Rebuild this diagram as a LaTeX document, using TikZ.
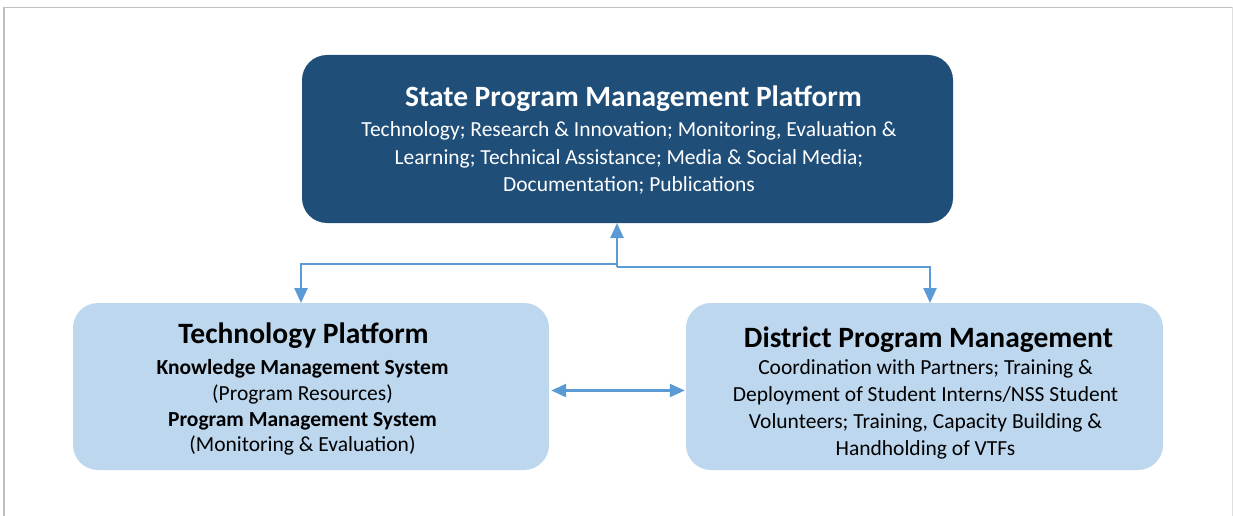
\documentclass[tikz,border=0pt]{standalone}
\usepackage{fontspec}
\setmainfont{Carlito}
\usetikzlibrary{arrows.meta,calc}
\definecolor{darkbox}{HTML}{1F4E79}
\definecolor{lightbox}{HTML}{BDD7EE}
\definecolor{arrowc}{HTML}{5B9BD5}
\definecolor{framec}{HTML}{BFBFBF}
\begin{document}
\begin{tikzpicture}[x=1pt,y=-1pt,
  dbox/.style={rectangle, rounded corners=25pt, fill=darkbox, draw=none, inner sep=0pt},
  lbox/.style={rectangle, rounded corners=25pt, fill=lightbox, draw=none, inner sep=0pt},
  ttl/.style={font=\fontsize{29.5}{34}\selectfont\bfseries, inner sep=0pt},
  bodytxt/.style={font=\fontsize{21.5}{27.5}\selectfont, align=center, inner sep=0pt},
  conn/.style={draw=arrowc, line width=2.5pt, -{Triangle[length=15pt,width=13pt]}},
  dconn/.style={draw=arrowc, line width=2.5pt, {Triangle[length=15pt,width=13pt]}-{Triangle[length=15pt,width=13pt]}}
]
\useasboundingbox (0,0) rectangle (1233,516);
% frame
\draw[framec, line width=1.5pt] (4,516) -- (4,7.5) -- (1232,7.5);
\draw[framec!50, line width=1pt] (1232,7.5) -- (1232,516);

% boxes
\node[dbox, minimum width=651pt, minimum height=168pt] (top) at (627.5,139) {};
\node[lbox, minimum width=476pt, minimum height=167pt] (left) at (311,386.5) {};
\node[lbox, minimum width=477pt, minimum height=167pt] (right) at (924.5,386.5) {};

% texts
\node[ttl, text=white] (toptitle) at (633.5,99) {State Program Management Platform};
\node[bodytxt, text=white] (topbody) at (629,158) {Technology; Research \& Innovation; Monitoring, Evaluation \&\\Learning; Technical Assistance; Media \& Social Media;\\Documentation; Publications};

\node[ttl, text=black] (lefttitle) at (303.5,336) {Technology Platform};
\node[bodytxt, text=black, font=\fontsize{21.5}{25.7}\selectfont] (leftbody) at (302.5,407.5) {\textbf{Knowledge Management System}\\(Program Resources)\\\textbf{Program Management System}\\(Monitoring \& Evaluation)};

\node[ttl, text=black] (righttitle) at (928.5,340) {District Program Management};
\node[bodytxt, text=black, font=\fontsize{21.5}{27}\selectfont] (rightbody) at (925.5,409.5) {Coordination with Partners; Training \&\\Deployment of Student Interns/NSS Student\\Volunteers; Training, Capacity Building \&\\Handholding of VTFs};

% connectors
\coordinate (jl) at (617,264);
\coordinate (jr) at (617,267);
\coordinate (tl) at (301,264);
\coordinate (tr) at (930,267);
\coordinate (up) at (617,223);
\coordinate (ld) at (301,303);
\coordinate (rd) at (930,303);
\coordinate (la) at ($(left.east)+(2,4)$);
\coordinate (ra) at ($(right.west)+(-1,4)$);
\draw[conn] (jr) -- (up);
\draw[conn] (jl) -- (tl) -- (ld);
\draw[conn] (jr) -- (tr) -- (rd);
\draw[dconn] (la) -- (ra);
\end{tikzpicture}
\end{document}
